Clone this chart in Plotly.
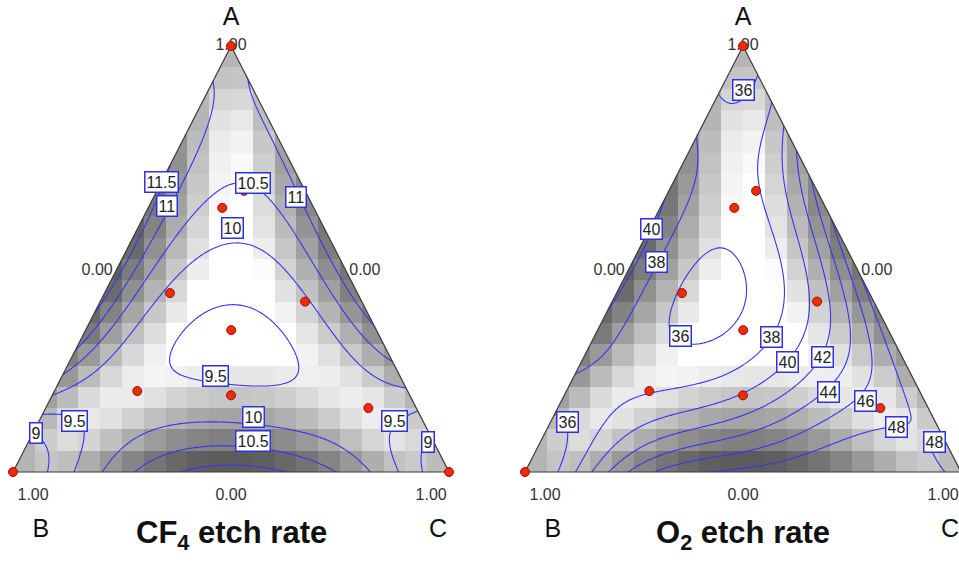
import numpy as np
import plotly.graph_objects as go

# ---------------------------------------------------------------
# Mixture design runs (component fractions A, B, C)
# ---------------------------------------------------------------
design_A = [1.00, 0.00, 0.00, 0.66, 0.62, 0.42, 0.40, 0.333, 0.19, 0.18, 0.15]
design_B = [0.00, 1.00, 0.00, 0.14, 0.21, 0.43, 0.13, 0.333, 0.62, 0.41, 0.11]
design_C = [0.00, 0.00, 1.00, 0.20, 0.17, 0.15, 0.47, 0.334, 0.19, 0.41, 0.74]

# ---------------------------------------------------------------
# CF4 etch rate: response estimates at mixture points (A, B, C, rate)
# ---------------------------------------------------------------
cf4_A = [1.0, 0.0, 0.0,
         0.90, 0.75, 0.556, 0.364, 0.286, 0.228, 0.18, 0.129, 0.094,
         0.88, 0.59, 0.32, 0.275, 0.20, 0.127, 0.103,
         0.0, 0.0, 0.0, 0.0, 0.0, 0.0, 0.0, 0.0, 0.0, 0.0, 0.0,
         0.549, 0.667,
         0.85, 0.702, 0.622, 0.779, 0.646, 0.545,
         0.608, 0.545, 0.411, 0.317, 0.655,
         0.514, 0.399, 0.27, 0.528, 0.425, 0.35, 0.27,
         0.404, 0.333, 0.246, 0.2, 0.251, 0.34, 0.298,
         0.075, 0.106, 0.127, 0.082, 0.045,
         0.045, 0.073, 0.045, 0.021,
         0.099, 0.068, 0.099, 0.052,
         0.15, 0.19, 0.05, 0.0, 0.05, 0.0]
cf4_B = [0.0, 1.0, 0.0,
         0.10, 0.25, 0.444, 0.636, 0.714, 0.772, 0.82, 0.871, 0.906,
         0.0, 0.0, 0.0, 0.0, 0.0, 0.0, 0.0,
         0.922, 0.851, 0.8, 0.725, 0.628, 0.5, 0.365, 0.257, 0.181, 0.112, 0.06,
         0.225, 0.167,
         0.112, 0.25, 0.336, 0.037, 0.026, 0.024,
         0.274, 0.361, 0.503, 0.626, 0.067,
         0.193, 0.126, 0.076, 0.284, 0.432, 0.55, 0.665,
         0.277, 0.444, 0.501, 0.425, 0.235, 0.218, 0.346,
         0.6875, 0.548, 0.386, 0.331, 0.25,
         0.579, 0.441, 0.289, 0.49,
         0.804, 0.897, 0.074, 0.029,
         0.11, 0.62, 0.0, 0.03, 0.95, 0.97]
cf4_C = [0.0, 0.0, 1.0,
         0.0, 0.0, 0.0, 0.0, 0.0, 0.0, 0.0, 0.0, 0.0,
         0.12, 0.41, 0.68, 0.725, 0.80, 0.873, 0.897,
         0.078, 0.149, 0.2, 0.275, 0.372, 0.5, 0.635, 0.743, 0.819, 0.888, 0.94,
         0.225, 0.167,
         0.038, 0.048, 0.042, 0.184, 0.328, 0.431,
         0.118, 0.094, 0.086, 0.057, 0.278,
         0.293, 0.475, 0.654, 0.188, 0.143, 0.1, 0.065,
         0.319, 0.223, 0.253, 0.375, 0.514, 0.442, 0.356,
         0.2375, 0.346, 0.487, 0.587, 0.705,
         0.376, 0.486, 0.666, 0.49,
         0.097, 0.035, 0.827, 0.919,
         0.74, 0.19, 0.95, 0.97, 0.0, 0.03]
cf4_rate = [10.8, 8.4, 8.4,
            11.0, 11.5, 11.75, 11.5, 11.0, 10.5, 10.0, 9.5, 9.0,
            11.0, 11.25, 11.0, 10.5, 10.0, 9.5, 9.0,
            9.0, 9.5, 10.0, 10.5, 11.0, 11.15, 11.0, 10.5, 10.0, 9.5, 9.0,
            10.0, 10.5,
            11.0, 11.0, 11.0, 11.0, 11.0, 11.0,
            10.5, 10.5, 10.5, 10.5, 10.5,
            10.0, 10.0, 10.0, 10.0, 10.0, 10.0, 10.0,
            9.5, 9.5, 9.5, 9.5, 9.5, 9.5, 9.3,
            10.0, 10.0, 10.0, 10.0, 10.0,
            10.5, 10.5, 10.5, 11.0,
            9.5, 9.0, 9.5, 9.0,
            9.7, 9.7, 8.6, 8.6, 8.6, 8.6]

# ---------------------------------------------------------------
# O2 etch rate: response estimates at mixture points (A, B, C, rate)
# ---------------------------------------------------------------
o2_A = [1.0, 0.0, 0.0,
        0.878, 0.786, 0.65, 0.51, 0.36, 0.223, 0.138,
        0.92, 0.873, 0.81, 0.756, 0.685, 0.592, 0.481, 0.263, 0.11,
        0.0, 0.0, 0.0, 0.0, 0.0, 0.0, 0.0, 0.0, 0.0,
        0.892,
        0.561, 0.411, 0.357, 0.293, 0.364, 0.423, 0.528, 0.427,
        0.117,
        0.74, 0.568, 0.481, 0.387, 0.286,
        0.803, 0.725, 0.608, 0.455, 0.427, 0.319, 0.232, 0.2, 0.153, 0.106,
        0.552, 0.373, 0.258, 0.146,
        0.568, 0.404, 0.27, 0.122,
        0.42, 0.188, 0.075,
        0.357, 0.169, 0.04,
        0.103, 0.063, 0.07, 0.216,
        0.38, 0.474, 0.33]
o2_B = [0.0, 1.0, 0.0,
        0.122, 0.214, 0.35, 0.49, 0.64, 0.777, 0.862,
        0.0, 0.0, 0.0, 0.0, 0.0, 0.0, 0.0, 0.0, 0.0,
        0.924, 0.885, 0.851, 0.805, 0.755, 0.702, 0.626, 0.37, 0.041,
        0.054,
        0.268, 0.272, 0.317, 0.448, 0.481, 0.433, 0.307, 0.328,
        0.845,
        0.229, 0.367, 0.457, 0.559, 0.678,
        0.055, 0.098, 0.139, 0.194, 0.195, 0.279, 0.414, 0.556, 0.694, 0.78,
        0.098, 0.171, 0.27, 0.549,
        0.058, 0.103, 0.182, 0.492,
        0.056, 0.211, 0.492,
        0.035, 0.136, 0.441,
        0.1, 0.337, 0.025, 0.032,
        0.409, 0.304, 0.40]
o2_C = [0.0, 0.0, 1.0,
        0.0, 0.0, 0.0, 0.0, 0.0, 0.0, 0.0,
        0.08, 0.127, 0.19, 0.244, 0.315, 0.408, 0.519, 0.737, 0.89,
        0.076, 0.115, 0.149, 0.195, 0.245, 0.298, 0.374, 0.63, 0.959,
        0.054,
        0.171, 0.317, 0.326, 0.259, 0.155, 0.144, 0.165, 0.245,
        0.038,
        0.031, 0.065, 0.062, 0.054, 0.036,
        0.142, 0.177, 0.253, 0.351, 0.378, 0.402, 0.354, 0.244, 0.153, 0.114,
        0.35, 0.456, 0.472, 0.305,
        0.374, 0.493, 0.548, 0.386,
        0.524, 0.601, 0.433,
        0.608, 0.695, 0.519,
        0.797, 0.6, 0.905, 0.752,
        0.211, 0.222, 0.27]
o2_rate = [35.5, 34.5, 47.5,
           36, 38, 40, 40.3, 40, 38, 36,
           36, 38, 40, 42, 44, 46, 48, 49.2, 48,
           36, 38, 40, 42, 44, 46, 48, 49.3, 48,
           36,
           36, 36, 36, 36, 36, 36, 36, 35.5,
           36,
           38, 38, 38, 38, 38,
           38, 38, 38, 38, 38, 38, 38, 38, 38, 38,
           40, 40, 40, 40,
           42, 42, 42, 42,
           44, 44, 44,
           46, 46, 46,
           48, 48, 48, 49,
           35.6, 35.7, 35.7]

# ---------------------------------------------------------------
# Contour label boxes: (A, B, C, text)
# ---------------------------------------------------------------
cf4_lbl_A = [0.68, 0.624, 0.678, 0.646, 0.573, 0.225, 0.12, 0.092, 0.129, 0.073, 0.12, 0.07]
cf4_lbl_B = [0.32, 0.335, 0.111, 0.028, 0.211, 0.424, 0.798, 0.901, 0.385, 0.413, 0.064, 0.013]
cf4_lbl_C = [0.00, 0.041, 0.211, 0.326, 0.216, 0.351, 0.082, 0.007, 0.486, 0.514, 0.816, 0.917]
cf4_lbl_txt = ["11.5", "11", "10.5", "11", "10", "9.5", "9.5", "9", "10", "10.5", "9.5", "9"]

o2_lbl_A = [0.897, 0.570, 0.493, 0.319, 0.117, 0.317, 0.258, 0.27, 0.188, 0.167, 0.106, 0.07]
o2_lbl_B = [0.0515, 0.424, 0.453, 0.485, 0.845, 0.275, 0.270, 0.182, 0.209, 0.136, 0.094, 0.025]
o2_lbl_C = [0.0515, 0.006, 0.054, 0.196, 0.038, 0.408, 0.472, 0.548, 0.603, 0.697, 0.8, 0.905]
o2_lbl_txt = ["36", "40", "38", "36", "36", "38", "40", "42", "44", "46", "48", "48"]

cf4_levels = (9.0, 11.5, 0.5)
o2_levels = (36.0, 48.0, 2.0)

# vertex / edge tick text
vertex_ticks = ["1.00", "1.00", "1.00"]
edge_ticks = ["0.00", "0.00", "0.00"]
vertex_names = ["A", "B", "C"]
panel_titles = ["CF<sub>4</sub> etch rate", "O<sub>2</sub> etch rate"]

FONT = "Liberation Sans, Arial, sans-serif"
LINE_BLUE = "#3535f0"
DEGREE = 6


def to_xy(a, b, c):
    """Barycentric (A, B, C) -> triangle plot coordinates (u, v)."""
    a, b, c = (np.asarray(t, dtype=float) for t in (a, b, c))
    s = a + b + c
    a, c = a / s, c / s
    return c + a / 2.0, a


def poly_terms(a, b, c, deg=DEGREE):
    cols = [a ** i * b ** j * c ** (deg - i - j)
            for i in range(deg + 1) for j in range(deg + 1 - i)]
    return np.stack(cols, axis=-1)


def quadratic_terms(a, b, c):
    return np.stack([a, b, c, a * b, a * c, b * c], axis=-1)


def fit_surface(a, b, c, y):
    X = poly_terms(np.asarray(a, float), np.asarray(b, float), np.asarray(c, float))
    coef, *_ = np.linalg.lstsq(X, np.asarray(y, dtype=float), rcond=None)
    return coef


# prediction standard error of the design (quadratic mixture model)
F = quadratic_terms(np.array(design_A), np.array(design_B), np.array(design_C))
M_inv = np.linalg.pinv(F.T @ F)

n_cell = 20
uc = (np.arange(n_cell) + 0.5) / n_cell
vc = (np.arange(n_cell) + 0.5) / n_cell
UC, VC = np.meshgrid(uc, vc)
ca = VC.copy()
cc = UC - VC / 2
cb = 1 - ca - cc
ca, cb, cc = (np.clip(t, 0, None) for t in (ca, cb, cc))
tot = ca + cb + cc
ca, cb, cc = ca / tot, cb / tot, cc / tot
fx = quadratic_terms(ca, cb, cc)
se = np.sqrt(np.einsum("...i,ij,...j->...", fx, M_inv, fx))
v0 = VC - 0.5 / n_cell
u0 = UC - 0.5 / n_cell
u1 = UC + 0.5 / n_cell
inside = (u1 > v0 / 2 + 1e-9) & (u0 < 1 - v0 / 2 - 1e-9)
se_in = se[inside]
lo = np.percentile(se_in, 12)
hi = se_in.max()
shade = np.clip((se - lo) / (hi - lo), 0, 1) ** 0.75
shade = np.where(inside, shade, np.nan)

# fine grid for the response contours
ug = np.linspace(0, 1, 201)
vg = np.linspace(0, 1, 201)
UG, VG = np.meshgrid(ug, vg)
ga = VG
gc = UG - VG / 2
gb = 1 - ga - gc
G = poly_terms(ga, gb, gc)

fig = go.Figure()

panels = [
    dict(xa="x", ya="y", A=cf4_A, B=cf4_B, C=cf4_C, y=cf4_rate, lev=cf4_levels,
         la=cf4_lbl_A, lb=cf4_lbl_B, lc=cf4_lbl_C, lt=cf4_lbl_txt),
    dict(xa="x2", ya="y2", A=o2_A, B=o2_B, C=o2_C, y=o2_rate, lev=o2_levels,
         la=o2_lbl_A, lb=o2_lbl_B, lc=o2_lbl_C, lt=o2_lbl_txt),
]

tri_u = [0.0, 0.5, 1.0, 0.0]
tri_v = [0.0, 1.0, 0.0, 0.0]

annotations = []
for k, p in enumerate(panels):
    xa, ya = p["xa"], p["ya"]
    fig.add_trace(go.Heatmap(
        x=uc, y=vc, z=shade, zmin=0, zmax=1, showscale=False, hoverinfo="skip",
        colorscale=[[0, "rgb(255,255,255)"], [1, "rgb(92,92,92)"]],
        xaxis=xa, yaxis=ya))

    coef = fit_surface(p["A"], p["B"], p["C"], p["y"])
    Z = G @ coef
    start, end, size = p["lev"]
    fig.add_trace(go.Contour(
        x=ug, y=vg, z=Z, showscale=False, hoverinfo="skip",
        contours=dict(start=start, end=end, size=size, coloring="none"),
        line=dict(color=LINE_BLUE, width=1.1, smoothing=1),
        xaxis=xa, yaxis=ya))

    # white masks outside the simplex
    fig.add_trace(go.Scatter(
        x=[0.0, 0.5, 0.5, -0.05, -0.05, 0.0], y=[0.0, 1.0, 1.05, 1.05, 0.0, 0.0],
        mode="lines", fill="toself", fillcolor="white", line=dict(width=0),
        hoverinfo="skip", xaxis=xa, yaxis=ya))
    fig.add_trace(go.Scatter(
        x=[1.0, 0.5, 0.5, 1.05, 1.05, 1.0], y=[0.0, 1.0, 1.05, 1.05, 0.0, 0.0],
        mode="lines", fill="toself", fillcolor="white", line=dict(width=0),
        hoverinfo="skip", xaxis=xa, yaxis=ya))

    # simplex outline
    fig.add_trace(go.Scatter(
        x=tri_u, y=tri_v, mode="lines", line=dict(color="#3a3a3a", width=1.2),
        hoverinfo="skip", xaxis=xa, yaxis=ya, cliponaxis=False))

    # tick text at vertices and edge midpoints
    tu, tv = to_xy([1, 0, 0], [0, 1, 0], [0, 0, 1])
    fig.add_trace(go.Scatter(
        x=[tu[0], tu[1] + 0.046, tu[2] - 0.041], y=[tv[0], -0.056, -0.056],
        mode="text", text=vertex_ticks, textposition="middle center",
        textfont=dict(family=FONT, size=16, color="#333333"),
        hoverinfo="skip", xaxis=xa, yaxis=ya, cliponaxis=False))
    mu, mv = to_xy([0.5, 0.5, 0.0], [0.5, 0.0, 0.5], [0.0, 0.5, 0.5])
    fig.add_trace(go.Scatter(
        x=[mu[0] - 0.057, mu[1] + 0.057, mu[2]], y=[mv[0] - 0.028, mv[1] - 0.028, -0.056],
        mode="text", text=edge_ticks, textposition="middle center",
        textfont=dict(family=FONT, size=16, color="#333333"),
        hoverinfo="skip", xaxis=xa, yaxis=ya, cliponaxis=False))
    fig.add_trace(go.Scatter(
        x=[0.5, 0.064, 0.975], y=[1.063, -0.137, -0.137],
        mode="text", text=vertex_names, textposition="middle center",
        textfont=dict(family=FONT, size=25, color="#111111"),
        hoverinfo="skip", xaxis=xa, yaxis=ya, cliponaxis=False))

    # design runs
    du, dv = to_xy(design_A, design_B, design_C)
    fig.add_trace(go.Scatter(
        x=du, y=dv, mode="markers",
        marker=dict(size=9, color="#f02a0c", line=dict(color="#9a1000", width=1)),
        hoverinfo="skip", xaxis=xa, yaxis=ya, cliponaxis=False))

    # contour value boxes
    lu, lv = to_xy(p["la"], p["lb"], p["lc"])
    for x_, y_, t_ in zip(lu, lv, p["lt"]):
        annotations.append(dict(
            x=float(x_), y=float(y_), xref=xa, yref=ya, text=t_, showarrow=False,
            font=dict(family=FONT, size=16, color="#222222"),
            bgcolor="white", bordercolor="#2f2fe8", borderwidth=1.5, borderpad=1))

    annotations.append(dict(
        x=0.5, y=-0.148, xref=xa, yref=ya, text="<b>" + panel_titles[k] + "</b>",
        showarrow=False, font=dict(family=FONT, size=31, color="#111111")))

# plot area mapping: u in [0,1] spans 436 px; v in [0,1] spans 426 px
fig.update_layout(
    width=959, height=562,
    margin=dict(l=0, r=0, t=0, b=0),
    paper_bgcolor="white", plot_bgcolor="white",
    showlegend=False,
    annotations=annotations,
    xaxis=dict(domain=[0, 0.5], range=[-13 / 436, 466.5 / 436], visible=False, fixedrange=True),
    yaxis=dict(domain=[0, 1], range=[-90 / 426, 472 / 426], visible=False, fixedrange=True),
    xaxis2=dict(domain=[0.5, 1], range=[-45.5 / 436, 434 / 436], visible=False, fixedrange=True),
    yaxis2=dict(domain=[0, 1], range=[-90 / 426, 472 / 426], visible=False, fixedrange=True,
                anchor="x2"),
)

fig.write_html("out.html")
